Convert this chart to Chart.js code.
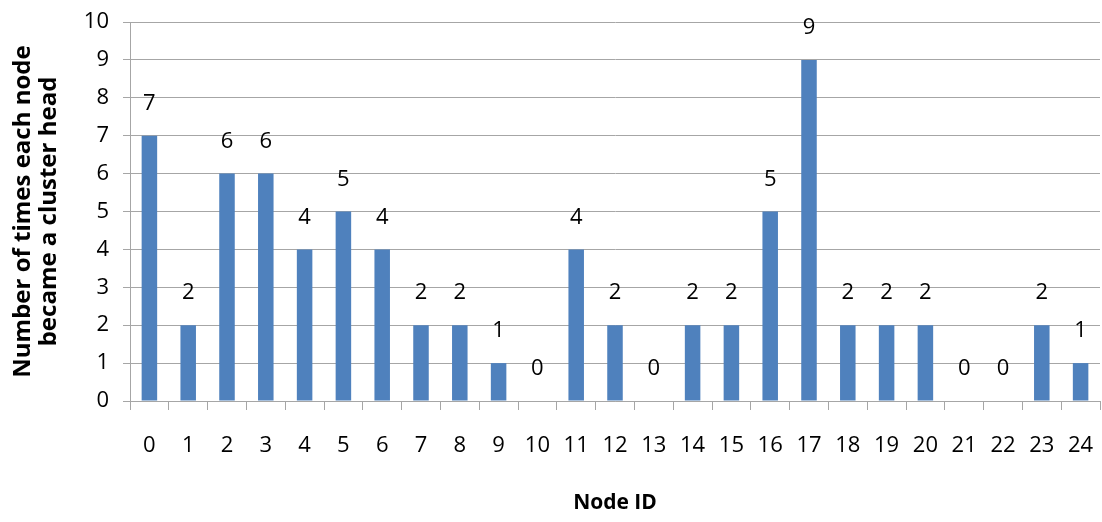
<!DOCTYPE html>
<html>
<head>
<meta charset="utf-8">
<script src="https://cdn.jsdelivr.net/npm/chart.js@4"></script>
<style>
  html, body { margin: 0; padding: 0; background: #fff; }
  #wrap { width: 1102px; height: 522px; }
</style>
</head>
<body>
<div id="wrap"><canvas id="chart" width="1102" height="522"></canvas></div>
<script>
const nodeIds = ["0","1","2","3","4","5","6","7","8","9","10","11","12","13","14","15","16","17","18","19","20","21","22","23","24"];
const headCounts = [7, 2, 6, 6, 4, 5, 4, 2, 2, 1, 0, 4, 2, 0, 2, 2, 5, 9, 2, 2, 2, 0, 0, 2, 1];
const yTicks = [0, 1, 2, 3, 4, 5, 6, 7, 8, 9, 10];

const FONT = "'Open Sans', 'Liberation Sans', sans-serif";
const GRID = "#a6a6a6";

// value labels above each bar, zeros included
const barLabels = {
  id: "barLabels",
  afterDatasetsDraw(chart) {
    const ctx = chart.ctx;
    const meta = chart.getDatasetMeta(0);
    ctx.save();
    ctx.font = "22px " + FONT;
    ctx.fillStyle = "#000";
    ctx.textAlign = "center";
    ctx.textBaseline = "middle";
    meta.data.forEach((bar, i) => {
      ctx.fillText(String(headCounts[i]), bar.x, bar.y - 32);
    });
    ctx.restore();
  }
};

new Chart(document.getElementById("chart"), {
  type: "bar",
  data: {
    labels: nodeIds,
    datasets: [{
      data: headCounts,
      backgroundColor: "#4f81bd",
      categoryPercentage: 1,
      barPercentage: 0.4
    }]
  },
  options: {
    responsive: false,
    animation: false,
    layout: { padding: { left: 0, right: 2, top: 22, bottom: 0 } },
    plugins: {
      legend: { display: false },
      tooltip: { enabled: false }
    },
    scales: {
      x: {
        grid: {
          offset: true,
          drawOnChartArea: false,
          drawTicks: true,
          tickLength: 9,
          color: GRID
        },
        border: { color: GRID, width: 1 },
        ticks: {
          padding: 23,
          color: "#000",
          font: { family: FONT, size: 22 },
          maxRotation: 0,
          autoSkip: false
        },
        title: {
          display: true,
          text: "Node ID",
          color: "#000",
          font: { family: FONT, size: 21, weight: "bold" },
          padding: { top: 22, bottom: 6 }
        },
        afterFit(axis) {
          axis.height = 121;
          axis.paddingLeft = 0;
          axis.paddingRight = 0;
        }
      },
      y: {
        min: 0,
        max: 10,
        afterBuildTicks(axis) { axis.ticks = yTicks.map(v => ({ value: v })); },
        grid: {
          color: GRID,
          tickLength: 7,
          drawTicks: true
        },
        border: { color: GRID, width: 1 },
        ticks: {
          padding: 14,
          color: "#000",
          font: { family: FONT, size: 22 }
        },
        title: {
          display: true,
          text: ["Number of times each node", "became a cluster head"],
          color: "#000",
          font: { family: FONT, size: 24, weight: "bold", lineHeight: 1.08 },
          padding: { top: 10, bottom: 0 }
        },
        afterFit(axis) {
          axis.width = 130;
          axis.paddingTop = 0;
          axis.paddingBottom = 0;
        }
      }
    }
  },
  plugins: [barLabels]
});
</script>
</body>
</html>
